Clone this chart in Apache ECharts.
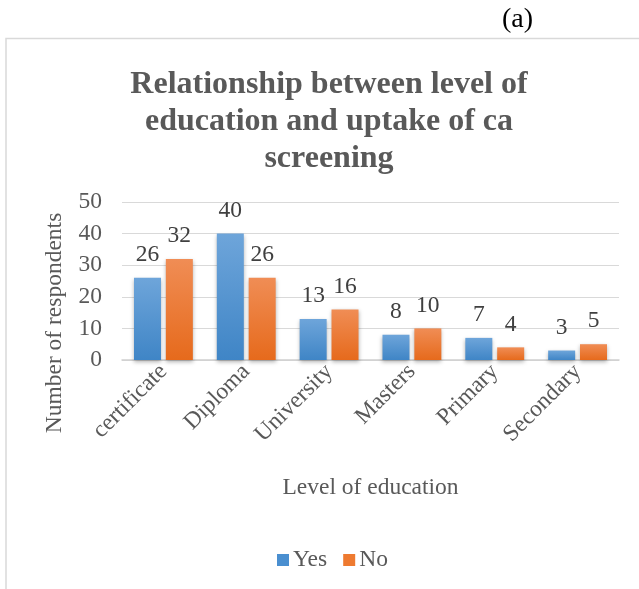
<!DOCTYPE html>
<html>
<head>
<meta charset="utf-8">
<script src="https://cdn.jsdelivr.net/npm/echarts@6/dist/echarts.min.js"></script>
<style>
html,body{margin:0;padding:0;background:#fff;}
#chart{width:639px;height:589px;}
</style>
</head>
<body>
<div id="chart"></div>
<script>
var categories = ['certificate', 'Diploma', 'University', 'Masters', 'Primary', 'Secondary'];
var yesValues = [26, 40, 13, 8, 7, 3];
var noValues = [32, 26, 16, 10, 4, 5];
var seriesNames = ['Yes', 'No'];
var yTicks = { min: 0, max: 50, interval: 10 };
var titleText = 'Relationship between level of\neducation and uptake of ca\nscreening';
var xTitle = 'Level of education';
var yTitle = 'Number of respondents';
var panelLabel = '(a)';

var FONT = '"Liberation Serif", "Times New Roman", serif';
var FS = 23.5;
var chart = echarts.init(document.getElementById('chart'), null, {renderer: 'canvas'});

function grad(top, bottom) {
  return new echarts.graphic.LinearGradient(0, 0, 0, 1, [
    {offset: 0, color: top}, {offset: 1, color: bottom}
  ]);
}

var labelStyle = {
  show: true, position: 'top', distance: 11,
  color: '#404040', fontFamily: FONT, fontSize: FS
};

chart.setOption({
  animation: false,
  backgroundColor: '#ffffff',
  title: {
    text: titleText,
    left: 324, textAlign: 'center', top: 61,
    textStyle: {fontFamily: FONT, fontSize: 32, fontWeight: 'bold', color: '#595959', lineHeight: 37}
  },
  graphic: [
    {type: 'polyline', shape: {points: [[6, 589], [6, 38.5], [639, 38.5]]},
     style: {stroke: '#d9d9d9', lineWidth: 1.5, fill: null}, silent: true},
    {type: 'text', x: 502, y: 6,
     style: {text: panelLabel, fontFamily: FONT, fontSize: 28, fill: '#000000'}},
    {type: 'text', x: 55, y: 323, rotation: Math.PI / 2,
     style: {text: yTitle, fontFamily: FONT, fontSize: FS, fill: '#595959', align: 'center', verticalAlign: 'middle'}}
  ],
  legend: {
    data: [
      {name: seriesNames[0], itemStyle: {color: '#4a8fd0'}},
      {name: seriesNames[1], itemStyle: {color: '#ee7a30'}}
    ],
    left: 272, top: 543,
    itemWidth: 12, itemHeight: 12, itemGap: 16,
    icon: 'rect',
    textStyle: {fontFamily: FONT, fontSize: FS, color: '#595959', padding: [0, 0, 0, -1]}
  },
  grid: {left: 122, right: 20, top: 202, bottom: 229, containLabel: false},
  xAxis: {
    type: 'category',
    data: categories,
    name: xTitle,
    nameLocation: 'middle',
    nameGap: 116,
    nameTextStyle: {fontFamily: FONT, fontSize: FS, color: '#595959'},
    axisLine: {lineStyle: {color: '#d0d0d0', width: 1.5}},
    axisTick: {show: false},
    axisLabel: {rotate: 45, margin: 8, fontFamily: FONT, fontSize: FS, color: '#595959', interval: 0}
  },
  yAxis: {
    type: 'value',
    min: yTicks.min, max: yTicks.max, interval: yTicks.interval,
    axisLine: {show: false},
    axisTick: {show: false},
    splitLine: {lineStyle: {color: '#d9d9d9', width: 1}},
    axisLabel: {margin: 20, fontFamily: FONT, fontSize: FS, color: '#595959'}
  },
  series: [
    {
      name: seriesNames[0], type: 'bar', data: yesValues,
      barWidth: 27, barGap: '18%',
      itemStyle: {color: grad('#6ea5da', '#3f85c6'), shadowBlur: 4, shadowColor: 'rgba(0,0,0,0.3)', shadowOffsetY: 2},
      label: labelStyle
    },
    {
      name: seriesNames[1], type: 'bar', data: noValues,
      barWidth: 27,
      itemStyle: {color: grad('#f08d55', '#e66a1c'), shadowBlur: 4, shadowColor: 'rgba(0,0,0,0.3)', shadowOffsetY: 2},
      label: labelStyle
    }
  ]
});
</script>
</body>
</html>
